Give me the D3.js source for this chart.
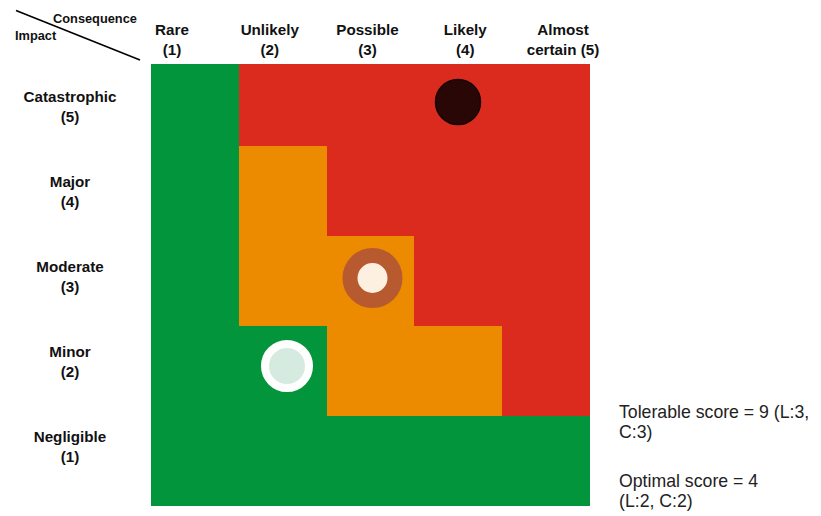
<!DOCTYPE html>
<html>
<head>
<meta charset="utf-8">
<script src="https://cdn.jsdelivr.net/npm/d3@7"></script>
<style>
  body { margin: 0; background: #fff; }
  text { font-family: "Liberation Sans", Arial, sans-serif; }
</style>
</head>
<body>
<svg width="821" height="516"></svg>
<script>
// likelihood (columns) and impact (rows)
var likelihood = [1, 2, 3, 4, 5];
var likelihoodLabels = [["Rare", "(1)"], ["Unlikely", "(2)"], ["Possible", "(3)"], ["Likely", "(4)"], ["Almost", "certain (5)"]];
var impact = [1, 2, 3, 4, 5];
var impactLabels = [["Negligible", "(1)"], ["Minor", "(2)"], ["Moderate", "(3)"], ["Major", "(4)"], ["Catastrophic", "(5)"]];

// risk level per cell, one row per impact (1..5), columns = likelihood 1..5
var riskNegligible = ["low", "low", "low", "low", "low"];
var riskMinor = ["low", "low", "mid", "mid", "high"];
var riskModerate = ["low", "mid", "mid", "high", "high"];
var riskMajor = ["low", "mid", "high", "high", "high"];
var riskCatastrophic = ["low", "high", "high", "high", "high"];
var riskRows = [riskNegligible, riskMinor, riskModerate, riskMajor, riskCatastrophic];

// markers: L = likelihood, C = consequence/impact
var markers = [
  { name: "current", L: 4, C: 5 },
  { name: "tolerable", L: 3, C: 3 },
  { name: "optimal", L: 2, C: 2 }
];
var notes = [["Tolerable score = 9 (L:3,", "C:3)"], ["Optimal score = 4", "(L:2, C:2)"]];

var svg = d3.select("svg");
var color = d3.scaleOrdinal()
  .domain(["low", "mid", "high"])
  .range(["#03953b", "#ec8a00", "#db2a1e"]);

var x = d3.scaleBand().domain(likelihood).range([151, 590]);
var y = d3.scaleBand().domain(impact).range([506, 56]);
var xPt = d3.scaleLinear().domain([1, 5]).range([201.5, 543.5]);
var yPt = d3.scaleLinear().domain([1, 5]).range([454, 102]);
var xHead = d3.scaleLinear().domain([1, 5]).range([172, 563]);
var yHead = d3.scaleLinear().domain([1, 5]).range([442, 102]);

svg.append("clipPath").attr("id", "grid")
  .append("rect").attr("x", 151).attr("y", 64).attr("width", 439).attr("height", 442);

var cells = [];
riskRows.forEach(function(row, i) {
  row.forEach(function(lvl, j) {
    cells.push({ L: likelihood[j], C: impact[i], level: lvl });
  });
});

svg.append("g").attr("clip-path", "url(#grid)")
  .selectAll("rect")
  .data(cells)
  .enter().append("rect")
    .attr("x", function(d) { return Math.round(x(d.L)); })
    .attr("y", function(d) { return Math.round(y(d.C)); })
    .attr("width", function(d) { return Math.round(x(d.L) + x.bandwidth()) - Math.round(x(d.L)); })
    .attr("height", function(d) { return Math.round(y(d.C) + y.bandwidth()) - Math.round(y(d.C)); })
    .attr("shape-rendering", "crispEdges")
    .attr("fill", function(d) { return color(d.level); });

// markers
var mk = svg.append("g");
markers.forEach(function(m) {
  var cx = xPt(m.L), cy = yPt(m.C);
  if (m.name == "current") {
    mk.append("circle").attr("cx", cx).attr("cy", cy).attr("r", 22.5)
      .attr("fill", "#2a0707").attr("stroke", "#140303").attr("stroke-width", 1.5);
  } else if (m.name == "tolerable") {
    mk.append("circle").attr("cx", cx).attr("cy", cy).attr("r", 22.5)
      .attr("fill", "#fdf0e0").attr("stroke", "#b85a30").attr("stroke-width", 15);
  } else {
    mk.append("circle").attr("cx", cx).attr("cy", cy).attr("r", 22)
      .attr("fill", "#d6ebdf").attr("stroke", "#fff").attr("stroke-width", 8);
  }
});

// column headers
svg.append("g").selectAll("text")
  .data(likelihood)
  .enter().append("text")
    .attr("x", function(d) { return xHead(d); })
    .attr("y", 35)
    .attr("text-anchor", "middle")
    .style("font-size", "15.2px").style("font-weight", "bold").attr("fill", "#111")
    .each(function(d, i) {
      var t = d3.select(this);
      likelihoodLabels[i].forEach(function(s, k) {
        t.append("tspan").attr("x", xHead(d)).attr("dy", k ? 20 : 0).text(s);
      });
    });

// row headers
svg.append("g").selectAll("text")
  .data(impact)
  .enter().append("text")
    .attr("x", 70)
    .attr("y", function(d) { return yHead(d); })
    .attr("text-anchor", "middle")
    .style("font-size", "15.2px").style("font-weight", "bold").attr("fill", "#111")
    .each(function(d, i) {
      var t = d3.select(this);
      impactLabels[i].forEach(function(s, k) {
        t.append("tspan").attr("x", 70).attr("dy", k ? 20 : 0).text(s);
      });
    });

// corner
svg.append("line").attr("x1", 16).attr("y1", 10.5).attr("x2", 140).attr("y2", 60)
  .attr("stroke", "#000").attr("stroke-width", 1.6);
svg.append("text").attr("x", 53).attr("y", 23).text("Consequence")
  .style("font-size", "12.8px").style("font-weight", "bold").attr("fill", "#111");
svg.append("text").attr("x", 15).attr("y", 40).text("Impact")
  .style("font-size", "12.8px").style("font-weight", "bold").attr("fill", "#111");

// notes on the right
var noteY = [418, 487];
notes.forEach(function(lines, i) {
  var t = svg.append("text").attr("x", 619).attr("y", noteY[i])
    .style("font-size", "17.7px").attr("fill", "#222");
  lines.forEach(function(s, k) {
    t.append("tspan").attr("x", 619).attr("dy", k ? 20 : 0).text(s);
  });
});
</script>
</body>
</html>
